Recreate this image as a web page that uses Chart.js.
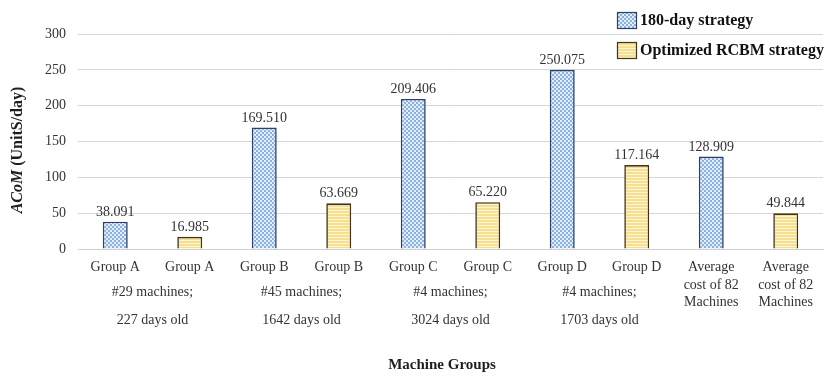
<!DOCTYPE html>
<html>
<head>
<meta charset="utf-8">
<script src="https://cdn.jsdelivr.net/npm/chart.js@4/dist/chart.umd.min.js"></script>
<style>
  html, body { margin: 0; padding: 0; background: #ffffff; }
  #wrap { width: 838px; height: 376px; }
</style>
</head>
<body>
<div id="wrap"><canvas id="c" width="838" height="376"></canvas></div>
<script>
// Category labels along the x axis (multi-line entries are arrays)
const categories = [
  'Group A', 'Group A', 'Group B', 'Group B', 'Group C', 'Group C',
  'Group D', 'Group D',
  ['Average', 'cost of 82', 'Machines'], ['Average', 'cost of 82', 'Machines']
];
// Average cost of maintenance per machine group (Unit$/day)
const strategy180 = [38.091, null, 169.510, null, 209.406, null, 250.075, null, 128.909, null];
const strategyRCBM = [null, 16.985, null, 63.669, null, 65.220, null, 117.164, null, 49.844];
const seriesNames = ['180-day strategy', 'Optimized RCBM strategy'];
// Notes placed under each pair of group bars
const groupNotes = [
  ['#29 machines;', '227 days old'],
  ['#45 machines;', '1642 days old'],
  ['#4 machines;', '3024 days old'],
  ['#4 machines;', '1703 days old']
];
const yTicks = [0, 50, 100, 150, 200, 250, 300];
const yTitleItalic = 'ACoM';
const yTitleRest = ' (UnitS/day)';
const xTitle = 'Machine Groups';

const SERIF = '"Liberation Serif", "Times New Roman", serif';
const TEXT = '#333333';

// Checkered light-blue fill
function checkerPattern() {
  const c = document.createElement('canvas');
  c.width = 4; c.height = 4;
  const g = c.getContext('2d');
  g.fillStyle = '#8ab2e0';
  g.fillRect(0, 0, 4, 4);
  g.fillStyle = '#e3eefa';
  g.fillRect(0, 0, 2, 2);
  g.fillRect(2, 2, 2, 2);
  return g.createPattern(c, 'repeat');
}
// Pale yellow fill with fine horizontal stripes
function stripePattern() {
  const c = document.createElement('canvas');
  c.width = 4; c.height = 3;
  const g = c.getContext('2d');
  g.fillStyle = '#f5df90';
  g.fillRect(0, 0, 4, 3);
  g.fillStyle = '#fdf5d2';
  g.fillRect(0, 0, 4, 1);
  return g.createPattern(c, 'repeat');
}

const fillBlue = checkerPattern();
const fillYellow = stripePattern();
const borderBlue = '#2f4064';
const borderYellow = '#40341b';

const overlay = {
  id: 'overlay',
  afterDatasetsDraw(chart) {
    const ctx = chart.ctx;
    const xs = chart.scales.x;
    ctx.save();
    // value labels above the bars
    ctx.font = '14px ' + SERIF;
    ctx.fillStyle = TEXT;
    ctx.textAlign = 'center';
    ctx.textBaseline = 'alphabetic';
    chart.data.datasets.forEach((ds, i) => {
      const meta = chart.getDatasetMeta(i);
      ds.data.forEach((v, j) => {
        if (v === null) return;
        const el = meta.data[j];
        ctx.fillText(v.toFixed(3), el.x, el.y - 6);
      });
    });
    // notes under each group pair
    ctx.textBaseline = 'middle';
    groupNotes.forEach((lines, k) => {
      const cx = (xs.getPixelForValue(2 * k) + xs.getPixelForValue(2 * k + 1)) / 2;
      ctx.fillText(lines[0], cx, 292);
      ctx.fillText(lines[1], cx, 320);
    });
    // x axis title
    ctx.font = 'bold 15px ' + SERIF;
    ctx.fillStyle = '#1f1f1f';
    ctx.fillText(xTitle, 442, 365);
    // y axis title (rotated, mixed styles)
    ctx.translate(18, 150);
    ctx.rotate(-Math.PI / 2);
    ctx.textAlign = 'left';
    const fItal = 'italic bold 16px ' + SERIF;
    const fBold = 'bold 16px ' + SERIF;
    ctx.font = fItal;
    const w1 = ctx.measureText(yTitleItalic).width;
    ctx.font = fBold;
    const w2 = ctx.measureText(yTitleRest).width;
    const x0 = -(w1 + w2) / 2;
    ctx.font = fItal;
    ctx.fillText(yTitleItalic, x0, 0);
    ctx.font = fBold;
    ctx.fillText(yTitleRest, x0 + w1, 0);
    ctx.restore();

    // legend
    ctx.save();
    const rows = [
      { y: 20, fill: fillBlue, stroke: borderBlue, label: seriesNames[0] },
      { y: 50, fill: fillYellow, stroke: borderYellow, label: seriesNames[1] }
    ];
    rows.forEach(r => {
      ctx.fillStyle = r.fill;
      ctx.fillRect(617, r.y - 8, 20, 17);
      ctx.strokeStyle = r.stroke;
      ctx.lineWidth = 1.2;
      ctx.strokeRect(617.5, r.y - 7.5, 19, 16);
      ctx.fillStyle = '#111111';
      ctx.font = 'bold 16px ' + SERIF;
      ctx.textAlign = 'left';
      ctx.textBaseline = 'middle';
      ctx.fillText(r.label, 640, r.y + 1);
    });
    ctx.restore();
  }
};

new Chart(document.getElementById('c'), {
  type: 'bar',
  data: {
    labels: categories,
    datasets: [
      {
        label: seriesNames[0],
        data: strategy180,
        backgroundColor: fillBlue,
        borderColor: borderBlue,
        borderWidth: 1.6,
        grouped: false,
        categoryPercentage: 1,
        barPercentage: 0.335
      },
      {
        label: seriesNames[1],
        data: strategyRCBM,
        backgroundColor: fillYellow,
        borderColor: borderYellow,
        borderWidth: 1.6,
        grouped: false,
        categoryPercentage: 1,
        barPercentage: 0.335
      }
    ]
  },
  options: {
    responsive: false,
    animation: false,
    layout: { padding: { top: 34, right: 15, left: 0, bottom: 0 } },
    plugins: {
      legend: { display: false },
      tooltip: { enabled: false }
    },
    scales: {
      x: {
        grid: { display: false, drawTicks: false },
        border: { display: true, color: '#cfcfcf', width: 1 },
        ticks: {
          autoSkip: false,
          maxRotation: 0,
          minRotation: 0,
          padding: 9,
          color: TEXT,
          font: { family: SERIF, size: 14, lineHeight: 1.28 }
        },
        afterFit(s) { s.height = 127; }
      },
      y: {
        min: 0,
        max: 300,
        afterBuildTicks(s) { s.ticks = yTicks.map(v => ({ value: v })); },
        grid: { color: '#d6d6d6', drawTicks: false, lineWidth: 1 },
        border: { display: false },
        ticks: {
          padding: 12,
          color: TEXT,
          font: { family: SERIF, size: 14 }
        },
        afterFit(s) { s.width = 78; }
      }
    }
  },
  plugins: [overlay]
});
</script>
</body>
</html>
